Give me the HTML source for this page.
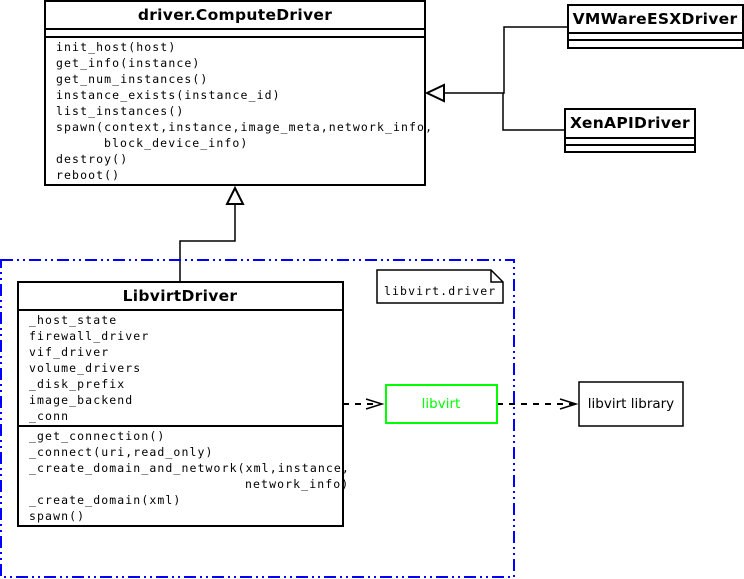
<!DOCTYPE html>
<html><head><meta charset="utf-8"><style>
html,body{margin:0;padding:0;background:#fff}
svg{display:block}
.m{font-family:"DejaVu Sans Mono","Liberation Mono",monospace;font-size:11.5px;letter-spacing:1.1px;fill:#000}
.t{font-family:"DejaVu Sans","Liberation Sans",sans-serif;font-size:15.5px;letter-spacing:0.3px;font-weight:bold;fill:#000}
</style></head><body>
<svg width="744" height="579" viewBox="0 0 744 579" xmlns="http://www.w3.org/2000/svg">
<g fill="none" stroke="#000" stroke-width="2">
<rect x="45" y="1" width="380" height="184" fill="#fff"/>
<line x1="45" y1="29" x2="425" y2="29"/><line x1="45" y1="37" x2="425" y2="37"/>
<rect x="568" y="5" width="175" height="43"/>
<line x1="568" y1="33" x2="743" y2="33"/><line x1="568" y1="40" x2="743" y2="40"/>
<rect x="565" y="109" width="130" height="43"/>
<line x1="565" y1="138" x2="695" y2="138"/><line x1="565" y1="145" x2="695" y2="145"/>
<polyline points="568,27 504,27 504,93 444,93" stroke-width="1.5"/>
<polyline points="565,130 503,130 503,93" stroke-width="1.5"/>
<polygon points="427,93 444,85 444,101" fill="#fff"/>
<polyline points="180,282 180,241 235,241 235,204" stroke-width="1.5"/>
<polygon points="235,188 227,204 243,204" fill="#fff"/>
</g>
<rect x="1" y="260" width="513" height="317" fill="none" stroke="#00f" stroke-width="2" stroke-dasharray="12,4,2,4,2,4"/>
<g fill="none" stroke="#000" stroke-width="2">
<rect x="18" y="282" width="325" height="244" fill="#fff"/>
<line x1="18" y1="310" x2="343" y2="310"/><line x1="18" y1="426" x2="343" y2="426"/>
<path d="M377,270 H491 L503,282 V303 H377 Z M491,270 V282 H503" stroke-width="1.5"/>
<rect x="579" y="382" width="104" height="44" stroke-width="1.5"/>
<line x1="343" y1="404" x2="381" y2="404" stroke-dasharray="6,6"/>
<polyline points="366,399 382,404 366,409" stroke-width="1.5"/>
<line x1="497" y1="404" x2="575" y2="404" stroke-dasharray="6,6"/>
<polyline points="560,399 576,404 560,409" stroke-width="1.5"/>
</g>
<rect x="386" y="385" width="111" height="38" fill="#fff" stroke="#0f0" stroke-width="2"/>
<text class="t" x="235" y="20" text-anchor="middle">driver.ComputeDriver</text>
<text class="t" x="655" y="24" text-anchor="middle">VMWareESXDriver</text>
<text class="t" x="630" y="128" text-anchor="middle">XenAPIDriver</text>
<text class="t" x="180" y="301" text-anchor="middle">LibvirtDriver</text>
<g class="m">
<text x="56" y="51">init_host(host)</text>
<text x="56" y="67">get_info(instance)</text>
<text x="56" y="83">get_num_instances()</text>
<text x="56" y="99">instance_exists(instance_id)</text>
<text x="56" y="115">list_instances()</text>
<text x="56" y="131">spawn(context,instance,image_meta,network_info,</text>
<text x="104" y="147">block_device_info)</text>
<text x="56" y="163">destroy()</text>
<text x="56" y="179">reboot()</text>
<text x="29" y="324">_host_state</text>
<text x="29" y="340">firewall_driver</text>
<text x="29" y="356">vif_driver</text>
<text x="29" y="372">volume_drivers</text>
<text x="29" y="388">_disk_prefix</text>
<text x="29" y="404">image_backend</text>
<text x="29" y="420">_conn</text>
<text x="29" y="440">_get_connection()</text>
<text x="29" y="456">_connect(uri,read_only)</text>
<text x="29" y="472">_create_domain_and_network(xml,instance,</text>
<text x="245" y="488">network_info)</text>
<text x="29" y="504">_create_domain(xml)</text>
<text x="29" y="520">spawn()</text>
<text x="384" y="295">libvirt.driver</text>
</g>
<text x="441" y="408" text-anchor="middle" font-family="DejaVu Sans,Liberation Sans,sans-serif" font-size="13.5" fill="#0f0">libvirt</text>
<text x="631" y="408" text-anchor="middle" font-family="DejaVu Sans,Liberation Sans,sans-serif" font-size="13.5" fill="#000">libvirt library</text>
</svg>
</body></html>
